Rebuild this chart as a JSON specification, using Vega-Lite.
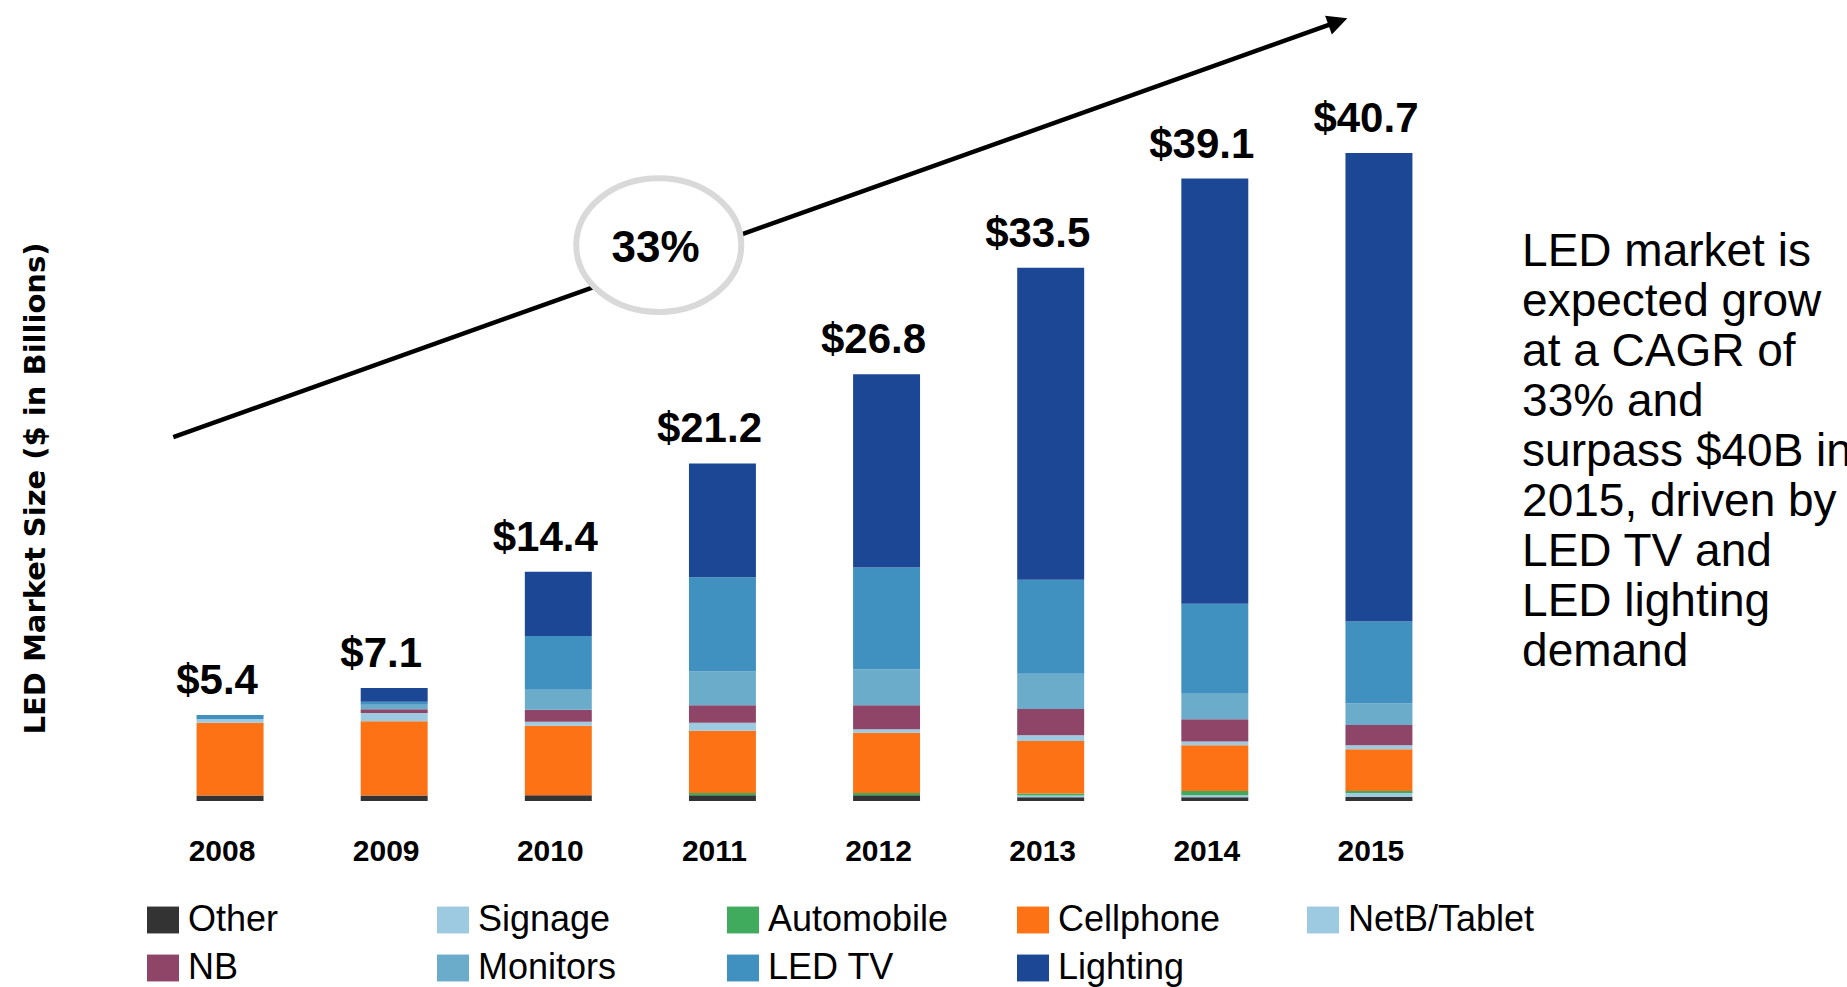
{
  "$schema": "https://vega.github.io/schema/vega-lite/v6.json",
  "width": 1313,
  "height": 796,
  "autosize": {"type": "none"},
  "padding": {"left": 148, "top": 5, "right": 386, "bottom": 186},
  "background": "white",
  "config": {"view": {"stroke": null}, "font": "Liberation Sans"},
  "datasets": {
    "market": [
      {"year": "2008", "segment": "Other", "value": 0.34},
      {"year": "2008", "segment": "Cellphone", "value": 4.57},
      {"year": "2008", "segment": "NetB/Tablet", "value": 0.24},
      {"year": "2008", "segment": "LED TV", "value": 0.25},
      {"year": "2009", "segment": "Other", "value": 0.35},
      {"year": "2009", "segment": "Cellphone", "value": 4.66},
      {"year": "2009", "segment": "NetB/Tablet", "value": 0.51},
      {"year": "2009", "segment": "NB", "value": 0.25},
      {"year": "2009", "segment": "Monitors", "value": 0.27},
      {"year": "2009", "segment": "LED TV", "value": 0.2},
      {"year": "2009", "segment": "Lighting", "value": 0.86},
      {"year": "2010", "segment": "Other", "value": 0.36},
      {"year": "2010", "segment": "Cellphone", "value": 4.37},
      {"year": "2010", "segment": "NetB/Tablet", "value": 0.25},
      {"year": "2010", "segment": "NB", "value": 0.75},
      {"year": "2010", "segment": "Monitors", "value": 1.26},
      {"year": "2010", "segment": "LED TV", "value": 3.37},
      {"year": "2010", "segment": "Lighting", "value": 4.04},
      {"year": "2011", "segment": "Other", "value": 0.36},
      {"year": "2011", "segment": "Automobile", "value": 0.15},
      {"year": "2011", "segment": "Cellphone", "value": 3.9},
      {"year": "2011", "segment": "NetB/Tablet", "value": 0.5},
      {"year": "2011", "segment": "NB", "value": 1.1},
      {"year": "2011", "segment": "Monitors", "value": 2.13},
      {"year": "2011", "segment": "LED TV", "value": 5.92},
      {"year": "2011", "segment": "Lighting", "value": 7.14},
      {"year": "2012", "segment": "Other", "value": 0.36},
      {"year": "2012", "segment": "Automobile", "value": 0.15},
      {"year": "2012", "segment": "Cellphone", "value": 3.77},
      {"year": "2012", "segment": "NetB/Tablet", "value": 0.23},
      {"year": "2012", "segment": "NB", "value": 1.51},
      {"year": "2012", "segment": "Monitors", "value": 2.26},
      {"year": "2012", "segment": "LED TV", "value": 6.38},
      {"year": "2012", "segment": "Lighting", "value": 12.14},
      {"year": "2013", "segment": "Other", "value": 0.23},
      {"year": "2013", "segment": "Signage", "value": 0.11},
      {"year": "2013", "segment": "Automobile", "value": 0.13},
      {"year": "2013", "segment": "Cellphone", "value": 3.3},
      {"year": "2013", "segment": "NetB/Tablet", "value": 0.36},
      {"year": "2013", "segment": "NB", "value": 1.65},
      {"year": "2013", "segment": "Monitors", "value": 2.22},
      {"year": "2013", "segment": "LED TV", "value": 5.9},
      {"year": "2013", "segment": "Lighting", "value": 19.6},
      {"year": "2014", "segment": "Other", "value": 0.23},
      {"year": "2014", "segment": "Signage", "value": 0.13},
      {"year": "2014", "segment": "Automobile", "value": 0.27},
      {"year": "2014", "segment": "Cellphone", "value": 2.87},
      {"year": "2014", "segment": "NetB/Tablet", "value": 0.23},
      {"year": "2014", "segment": "NB", "value": 1.4},
      {"year": "2014", "segment": "Monitors", "value": 1.61},
      {"year": "2014", "segment": "LED TV", "value": 5.65},
      {"year": "2014", "segment": "Lighting", "value": 26.71},
      {"year": "2015", "segment": "Other", "value": 0.25},
      {"year": "2015", "segment": "Signage", "value": 0.25},
      {"year": "2015", "segment": "Automobile", "value": 0.13},
      {"year": "2015", "segment": "Cellphone", "value": 2.62},
      {"year": "2015", "segment": "NetB/Tablet", "value": 0.25},
      {"year": "2015", "segment": "NB", "value": 1.27},
      {"year": "2015", "segment": "Monitors", "value": 1.36},
      {"year": "2015", "segment": "LED TV", "value": 5.15},
      {"year": "2015", "segment": "Lighting", "value": 29.42}
    ],
    "arrow": [{"ax": 0.154, "ay": 22.86, "ax2": 7.25, "ay2": 48.95}],
    "cagr": [{"ax": 3.112, "ay": 34.92, "tx": 3.092, "ty": 33.88, "label": "33%"}],
    "note": [{"ax": 8.372, "ay": 33.6, "label": "LED market is\nexpected grow\nat a CAGR of\n33% and\nsurpass $40B in\n2015, driven by\nLED TV and\nLED lighting\ndemand"}]
  },
  "layer": [
    {
      "data": {"name": "market"},
      "transform": [
        {"calculate": "indexof(['Other','Signage','Automobile','Cellphone','NetB/Tablet','NB','Monitors','LED TV','Lighting'], datum.segment)", "as": "stackOrder"}
      ],
      "encoding": {
        "x": {
          "field": "year",
          "type": "nominal",
          "scale": {"paddingInner": 0.592, "paddingOuter": 0.296},
          "axis": {
            "title": null,
            "labelAngle": 0,
            "ticks": false,
            "domain": false,
            "grid": false,
            "labelFont": "Liberation Sans",
            "labelFontWeight": "bold",
            "labelFontSize": 30,
            "labelColor": "#000000",
            "labelPadding": 35,
            "labelOffset": -8
          }
        }
      },
      "layer": [
        {
          "mark": {"type": "bar", "opacity": 1},
          "encoding": {
            "y": {
              "field": "value",
              "type": "quantitative",
              "stack": "zero",
              "scale": {"domain": [0, 50]},
              "axis": {
                "title": "LED Market Size ($ in Billions)",
                "titleFont": "DejaVu Sans",
                "titleFontWeight": "bold",
                "titleFontSize": 29,
                "titleColor": "#000000",
                "titleAngle": -90,
                "titleX": -104,
                "titleY": 483,
                "titleAlign": "center",
                "titleBaseline": "alphabetic",
                "labels": false,
                "ticks": false,
                "domain": false,
                "grid": false
              }
            },
            "order": {"field": "stackOrder", "type": "quantitative", "sort": "ascending"},
            "color": {
              "field": "segment",
              "type": "nominal",
              "scale": {
                "domain": ["Other", "Signage", "Automobile", "Cellphone", "NetB/Tablet", "NB", "Monitors", "LED TV", "Lighting"],
                "range": ["#333333", "#9ecae1", "#41ab5d", "#fc7214", "#9ecae1", "#8e4568", "#6baccb", "#4090c0", "#1c4794"]
              },
              "legend": {
                "title": null,
                "orient": "none",
                "legendX": -3,
                "legendY": 897,
                "direction": "horizontal",
                "columns": 5,
                "gridAlign": "all",
                "padding": 0,
                "symbolType": "M-1,-0.84H1V0.84H-1Z",
                "symbolSize": 1024,
                "symbolStrokeWidth": 0,
                "symbolOpacity": 1,
                "labelFont": "Liberation Sans",
                "labelFontSize": 36,
                "labelColor": "#000000",
                "labelOffset": 7,
                "labelLimit": 400,
                "columnPadding": 60,
                "rowPadding": 12
              }
            }
          }
        },
        {
          "mark": {"type": "text", "font": "Liberation Sans", "fontWeight": "bold", "fontSize": 42, "align": "center", "baseline": "alphabetic", "dy": -21, "dx": -13, "color": "#000000"},
          "encoding": {
            "y": {"aggregate": "sum", "field": "value", "type": "quantitative", "scale": {"domain": [0, 50]}, "axis": null},
            "text": {"aggregate": "sum", "field": "value", "type": "quantitative", "format": "$.1f"}
          }
        }
      ],
      "resolve": {"axis": {"y": "independent"}}
    },
    {
      "data": {"name": "arrow"},
      "mark": {"type": "rule", "color": "#000000", "strokeWidth": 4.5, "strokeCap": "butt"},
      "encoding": {
        "x": {"field": "ax", "type": "quantitative", "scale": {"domain": [0, 8]}, "axis": null},
        "x2": {"field": "ax2"},
        "y": {"field": "ay", "type": "quantitative", "scale": {"domain": [0, 50]}, "axis": null},
        "y2": {"field": "ay2"}
      }
    },
    {
      "data": {"name": "arrow"},
      "mark": {"type": "point", "shape": "M1,0L-1,-1L-1,1Z", "size": 400, "angle": 340.37, "filled": true, "fill": "#000000", "strokeWidth": 0, "opacity": 1},
      "encoding": {
        "x": {"field": "ax2", "type": "quantitative", "scale": {"domain": [0, 8]}, "axis": null},
        "y": {"field": "ay2", "type": "quantitative", "scale": {"domain": [0, 50]}, "axis": null}
      }
    },
    {
      "data": {"name": "cagr"},
      "mark": {"type": "point", "shape": "M-1,0C-1,-0.447,-0.552,-0.81,0,-0.81C0.552,-0.81,1,-0.447,1,0C1,0.447,0.552,0.81,0,0.81C-0.552,0.81,-1,0.447,-1,0Z", "size": 27225, "filled": false, "fill": "#ffffff", "fillOpacity": 1, "stroke": "#d9d9d9", "strokeWidth": 6, "opacity": 1},
      "encoding": {
        "x": {"field": "ax", "type": "quantitative", "scale": {"domain": [0, 8]}, "axis": null},
        "y": {"field": "ay", "type": "quantitative", "scale": {"domain": [0, 50]}, "axis": null}
      }
    },
    {
      "data": {"name": "cagr"},
      "mark": {"type": "text", "font": "Liberation Sans", "fontWeight": "bold", "fontSize": 44, "align": "center", "baseline": "alphabetic", "color": "#000000"},
      "encoding": {
        "x": {"field": "tx", "type": "quantitative", "scale": {"domain": [0, 8]}, "axis": null},
        "y": {"field": "ty", "type": "quantitative", "scale": {"domain": [0, 50]}, "axis": null},
        "text": {"field": "label"}
      }
    },
    {
      "data": {"name": "note"},
      "mark": {"type": "text", "font": "Liberation Sans", "fontSize": 46, "align": "left", "baseline": "alphabetic", "lineBreak": "\n", "lineHeight": 50, "color": "#000000"},
      "encoding": {
        "x": {"field": "ax", "type": "quantitative", "scale": {"domain": [0, 8]}, "axis": null},
        "y": {"field": "ay", "type": "quantitative", "scale": {"domain": [0, 50]}, "axis": null},
        "text": {"field": "label"}
      }
    }
  ],
  "resolve": {"scale": {"x": "independent"}, "axis": {"x": "independent", "y": "independent"}}
}
